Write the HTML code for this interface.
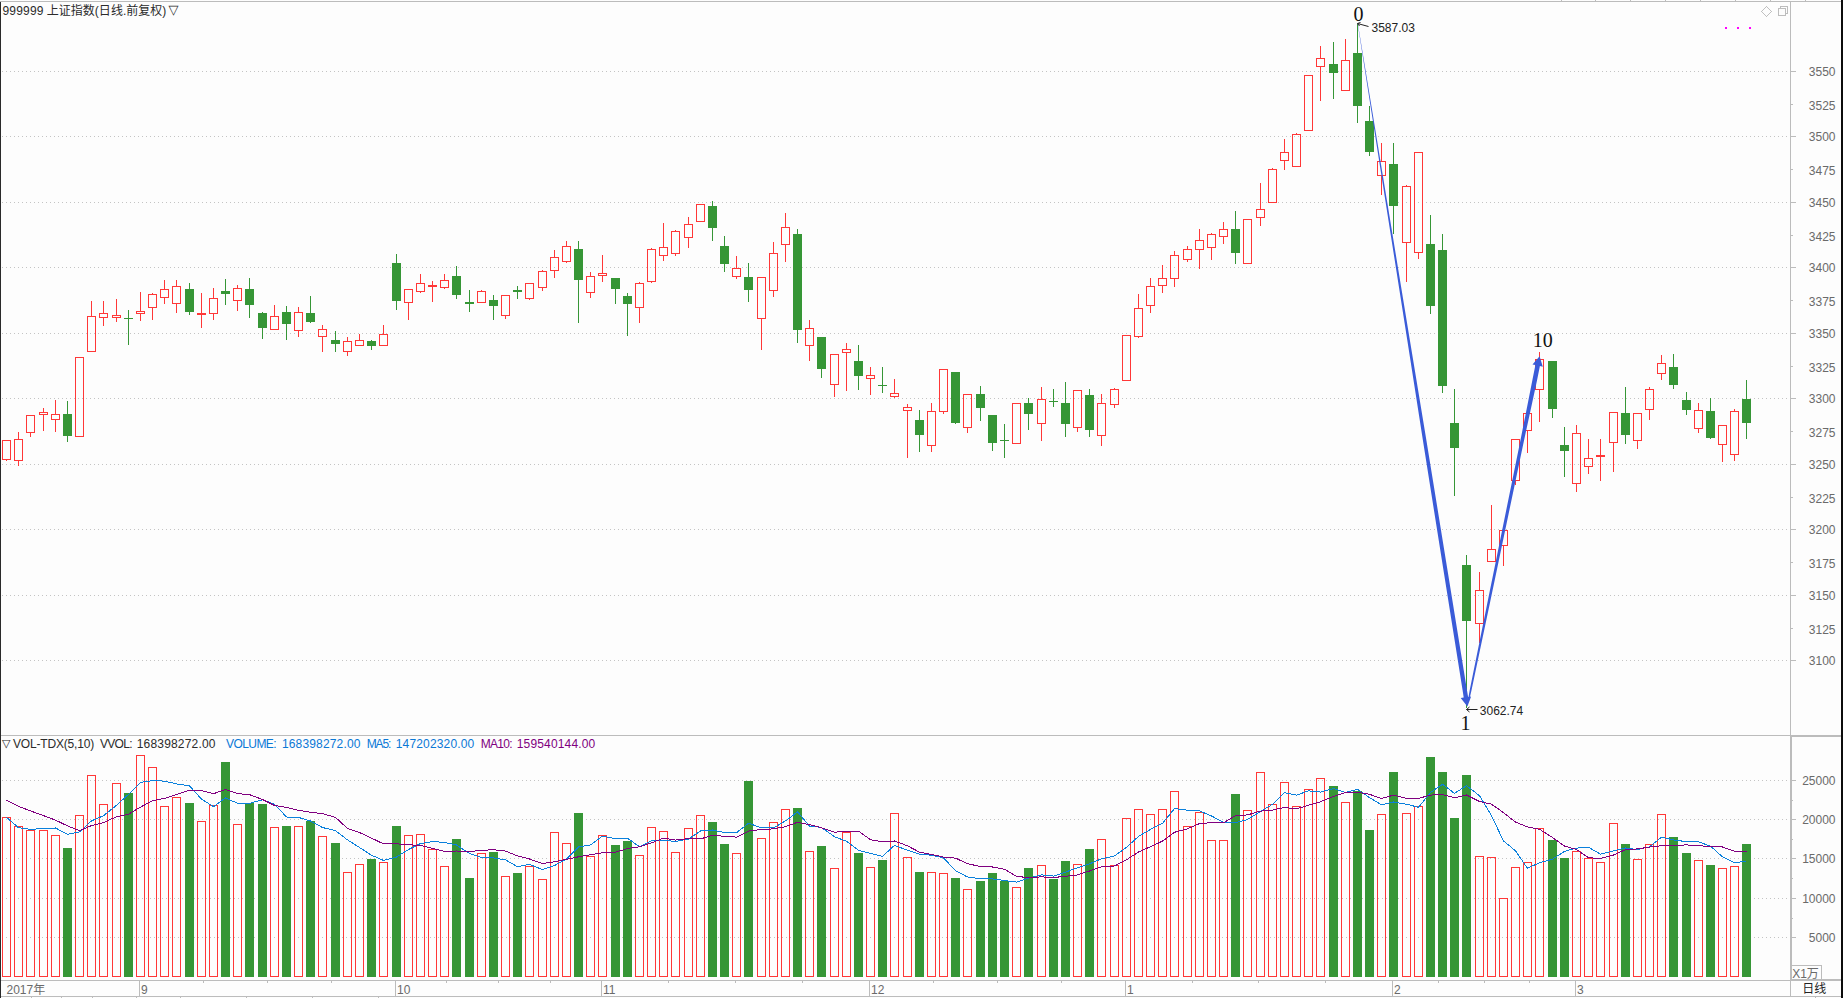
<!DOCTYPE html>
<html lang="zh-CN"><head><meta charset="utf-8"><title>999999 上证指数</title>
<style>
html,body{margin:0;padding:0;background:#fdfdfd;overflow:hidden}
svg{display:block}
text{font-family:"Liberation Sans","Noto Sans CJK SC",sans-serif;font-size:12px}
text.tri{font-family:"DejaVu Sans",sans-serif;font-size:11px}
text.sf{font-family:"Liberation Serif","Noto Serif CJK SC",serif;font-size:20px}
</style></head><body>
<svg width="1843" height="998" viewBox="0 0 1843 998">
<rect x="0" y="0" width="1843" height="998" fill="#fdfdfd"/>
<g shape-rendering="crispEdges">
<rect x="0" y="1" width="1841" height="1" fill="#bcbcbc"/>
<rect x="1561" y="0" width="1" height="1" fill="#bcbcbc"/>
<rect x="1595" y="0" width="1" height="1" fill="#bcbcbc"/>
<rect x="1630" y="0" width="1" height="1" fill="#bcbcbc"/>
<rect x="1665" y="0" width="1" height="1" fill="#bcbcbc"/>
<rect x="1700" y="0" width="1" height="1" fill="#bcbcbc"/>
<rect x="1735" y="0" width="1" height="1" fill="#bcbcbc"/>
<rect x="1770" y="0" width="1" height="1" fill="#bcbcbc"/>
<rect x="1805" y="0" width="1" height="1" fill="#bcbcbc"/>
<rect x="0" y="2" width="1" height="996" fill="#2a2a2a"/>
<rect x="1841" y="0" width="2" height="998" fill="#0c0c0c"/>
<rect x="1790" y="2" width="1" height="995" fill="#bcbcbc"/>
<rect x="1791" y="736" width="1" height="244" fill="#bcbcbc"/>
<rect x="1" y="735" width="1840" height="1" fill="#bcbcbc"/>
<rect x="1791" y="736" width="50" height="1" fill="#bcbcbc"/>
<rect x="1" y="980" width="1840" height="1" fill="#bcbcbc"/>
<rect x="1791" y="979" width="50" height="1" fill="#bcbcbc"/>
<rect x="1" y="996" width="1840" height="1" fill="#bcbcbc"/>
<rect x="31" y="997" width="1" height="1" fill="#bcbcbc"/>
<rect x="61" y="997" width="1" height="1" fill="#bcbcbc"/>
<rect x="92" y="997" width="1" height="1" fill="#bcbcbc"/>
<rect x="136" y="997" width="1" height="1" fill="#bcbcbc"/>
<rect x="180" y="997" width="1" height="1" fill="#bcbcbc"/>
<rect x="246" y="997" width="1" height="1" fill="#bcbcbc"/>
<rect x="312" y="997" width="1" height="1" fill="#bcbcbc"/>
<rect x="378" y="997" width="1" height="1" fill="#bcbcbc"/>
<rect x="1815" y="997" width="1" height="1" fill="#bcbcbc"/>
<rect x="1791" y="71" width="5" height="1" fill="#bcbcbc"/>
<rect x="1791" y="104" width="2" height="1" fill="#bcbcbc"/>
<rect x="1791" y="136" width="5" height="1" fill="#bcbcbc"/>
<rect x="1791" y="169" width="2" height="1" fill="#bcbcbc"/>
<rect x="1791" y="202" width="5" height="1" fill="#bcbcbc"/>
<rect x="1791" y="235" width="2" height="1" fill="#bcbcbc"/>
<rect x="1791" y="267" width="5" height="1" fill="#bcbcbc"/>
<rect x="1791" y="300" width="2" height="1" fill="#bcbcbc"/>
<rect x="1791" y="333" width="5" height="1" fill="#bcbcbc"/>
<rect x="1791" y="366" width="2" height="1" fill="#bcbcbc"/>
<rect x="1791" y="398" width="5" height="1" fill="#bcbcbc"/>
<rect x="1791" y="431" width="2" height="1" fill="#bcbcbc"/>
<rect x="1791" y="464" width="5" height="1" fill="#bcbcbc"/>
<rect x="1791" y="497" width="2" height="1" fill="#bcbcbc"/>
<rect x="1791" y="529" width="5" height="1" fill="#bcbcbc"/>
<rect x="1791" y="562" width="2" height="1" fill="#bcbcbc"/>
<rect x="1791" y="595" width="5" height="1" fill="#bcbcbc"/>
<rect x="1791" y="628" width="2" height="1" fill="#bcbcbc"/>
<rect x="1791" y="660" width="5" height="1" fill="#bcbcbc"/>
<rect x="1792" y="780" width="4" height="1" fill="#bcbcbc"/>
<rect x="1792" y="800" width="1" height="1" fill="#bcbcbc"/>
<rect x="1792" y="819" width="4" height="1" fill="#bcbcbc"/>
<rect x="1792" y="839" width="1" height="1" fill="#bcbcbc"/>
<rect x="1792" y="858" width="4" height="1" fill="#bcbcbc"/>
<rect x="1792" y="878" width="1" height="1" fill="#bcbcbc"/>
<rect x="1792" y="898" width="4" height="1" fill="#bcbcbc"/>
<rect x="1792" y="918" width="1" height="1" fill="#bcbcbc"/>
<rect x="1792" y="937" width="4" height="1" fill="#bcbcbc"/>
<rect x="139" y="981" width="1" height="15" fill="#bcbcbc"/>
<rect x="395" y="981" width="1" height="15" fill="#bcbcbc"/>
<rect x="601" y="981" width="1" height="15" fill="#bcbcbc"/>
<rect x="869" y="981" width="1" height="15" fill="#bcbcbc"/>
<rect x="1125" y="981" width="1" height="15" fill="#bcbcbc"/>
<rect x="1392" y="981" width="1" height="15" fill="#bcbcbc"/>
<rect x="1575" y="981" width="1" height="15" fill="#bcbcbc"/>
<rect x="203" y="981" width="1" height="2" fill="#bcbcbc"/>
<rect x="267" y="981" width="1" height="2" fill="#bcbcbc"/>
<rect x="331" y="981" width="1" height="2" fill="#bcbcbc"/>
<rect x="446" y="981" width="1" height="2" fill="#bcbcbc"/>
<rect x="498" y="981" width="1" height="2" fill="#bcbcbc"/>
<rect x="550" y="981" width="1" height="2" fill="#bcbcbc"/>
<rect x="668" y="981" width="1" height="2" fill="#bcbcbc"/>
<rect x="735" y="981" width="1" height="2" fill="#bcbcbc"/>
<rect x="802" y="981" width="1" height="2" fill="#bcbcbc"/>
<rect x="933" y="981" width="1" height="2" fill="#bcbcbc"/>
<rect x="997" y="981" width="1" height="2" fill="#bcbcbc"/>
<rect x="1061" y="981" width="1" height="2" fill="#bcbcbc"/>
<rect x="1192" y="981" width="1" height="2" fill="#bcbcbc"/>
<rect x="1258" y="981" width="1" height="2" fill="#bcbcbc"/>
<rect x="1325" y="981" width="1" height="2" fill="#bcbcbc"/>
<rect x="1438" y="981" width="1" height="2" fill="#bcbcbc"/>
<rect x="1484" y="981" width="1" height="2" fill="#bcbcbc"/>
<rect x="1529" y="981" width="1" height="2" fill="#bcbcbc"/>
<rect x="1791.5" y="965.5" width="30" height="14" fill="none" stroke="#bcbcbc"/>
<rect x="1725" y="27" width="2" height="2" fill="#ff00ff"/>
<rect x="1737" y="27" width="2" height="2" fill="#ff00ff"/>
<rect x="1749" y="27" width="2" height="2" fill="#ff00ff"/>
</g>
<path d="M1766.5 6.5 L1771.5 11.5 L1766.5 16.5 L1761.5 11.5 Z" fill="none" stroke="#c0c0c0" stroke-width="1" shape-rendering="crispEdges"/>
<g shape-rendering="crispEdges"><rect x="1780.5" y="6.5" width="7" height="7" fill="none" stroke="#bdbdbd"/><rect x="1778.5" y="8.5" width="7" height="7" fill="#fdfdfd" stroke="#bdbdbd"/></g>
<g shape-rendering="crispEdges">
<line x1="2" y1="71.5" x2="1787" y2="71.5" stroke="#c4c4c4" stroke-width="1" stroke-dasharray="1 3"/>
<line x1="2" y1="136.5" x2="1787" y2="136.5" stroke="#c4c4c4" stroke-width="1" stroke-dasharray="1 3"/>
<line x1="2" y1="202.5" x2="1787" y2="202.5" stroke="#c4c4c4" stroke-width="1" stroke-dasharray="1 3"/>
<line x1="2" y1="267.5" x2="1787" y2="267.5" stroke="#c4c4c4" stroke-width="1" stroke-dasharray="1 3"/>
<line x1="2" y1="333.5" x2="1787" y2="333.5" stroke="#c4c4c4" stroke-width="1" stroke-dasharray="1 3"/>
<line x1="2" y1="398.5" x2="1787" y2="398.5" stroke="#c4c4c4" stroke-width="1" stroke-dasharray="1 3"/>
<line x1="2" y1="464.5" x2="1787" y2="464.5" stroke="#c4c4c4" stroke-width="1" stroke-dasharray="1 3"/>
<line x1="2" y1="529.5" x2="1787" y2="529.5" stroke="#c4c4c4" stroke-width="1" stroke-dasharray="1 3"/>
<line x1="2" y1="595.5" x2="1787" y2="595.5" stroke="#c4c4c4" stroke-width="1" stroke-dasharray="1 3"/>
<line x1="2" y1="660.5" x2="1787" y2="660.5" stroke="#c4c4c4" stroke-width="1" stroke-dasharray="1 3"/>
<line x1="2" y1="780.5" x2="1787" y2="780.5" stroke="#c4c4c4" stroke-width="1" stroke-dasharray="1 3"/>
<line x1="2" y1="819.5" x2="1787" y2="819.5" stroke="#c4c4c4" stroke-width="1" stroke-dasharray="1 3"/>
<line x1="2" y1="858.5" x2="1787" y2="858.5" stroke="#c4c4c4" stroke-width="1" stroke-dasharray="1 3"/>
<line x1="2" y1="898.5" x2="1787" y2="898.5" stroke="#c4c4c4" stroke-width="1" stroke-dasharray="1 3"/>
<line x1="2" y1="937.5" x2="1787" y2="937.5" stroke="#c4c4c4" stroke-width="1" stroke-dasharray="1 3"/>
</g>
<g shape-rendering="crispEdges">
<rect x="2.5" y="440.5" width="8" height="19" fill="none" stroke="#ff3737" stroke-width="1"/>
<rect x="6.0" y="460" width="1" height="1" fill="#ff3737"/>
<rect x="14.5" y="439.5" width="8" height="21" fill="none" stroke="#ff3737" stroke-width="1"/>
<rect x="18.0" y="432" width="1" height="7" fill="#ff3737"/>
<rect x="18.0" y="461" width="1" height="5" fill="#ff3737"/>
<rect x="26.5" y="415.5" width="8" height="17" fill="none" stroke="#ff3737" stroke-width="1"/>
<rect x="30.0" y="433" width="1" height="4" fill="#ff3737"/>
<rect x="39.5" y="412.5" width="8" height="2" fill="none" stroke="#ff3737" stroke-width="1"/>
<rect x="43.0" y="408" width="1" height="4" fill="#ff3737"/>
<rect x="43.0" y="415" width="1" height="16" fill="#ff3737"/>
<rect x="51.5" y="414.5" width="8" height="5" fill="none" stroke="#ff3737" stroke-width="1"/>
<rect x="55.0" y="400" width="1" height="14" fill="#ff3737"/>
<rect x="55.0" y="420" width="1" height="12" fill="#ff3737"/>
<rect x="63.0" y="414" width="9" height="22" fill="#369636"/>
<rect x="67.0" y="401" width="1" height="13" fill="#369636"/>
<rect x="67.0" y="436" width="1" height="6" fill="#369636"/>
<rect x="75.5" y="357.5" width="8" height="79" fill="none" stroke="#ff3737" stroke-width="1"/>
<rect x="87.5" y="316.5" width="8" height="35" fill="none" stroke="#ff3737" stroke-width="1"/>
<rect x="91.0" y="301" width="1" height="15" fill="#ff3737"/>
<rect x="99.5" y="313.5" width="8" height="4" fill="none" stroke="#ff3737" stroke-width="1"/>
<rect x="103.0" y="301" width="1" height="12" fill="#ff3737"/>
<rect x="103.0" y="318" width="1" height="8" fill="#ff3737"/>
<rect x="112.5" y="315.5" width="8" height="2" fill="none" stroke="#ff3737" stroke-width="1"/>
<rect x="116.0" y="299" width="1" height="16" fill="#ff3737"/>
<rect x="116.0" y="318" width="1" height="4" fill="#ff3737"/>
<rect x="124.0" y="318" width="9" height="1" fill="#369636"/>
<rect x="128.0" y="310" width="1" height="8" fill="#369636"/>
<rect x="128.0" y="319" width="1" height="26" fill="#369636"/>
<rect x="136.5" y="311.5" width="8" height="2" fill="none" stroke="#ff3737" stroke-width="1"/>
<rect x="140.0" y="292" width="1" height="19" fill="#ff3737"/>
<rect x="140.0" y="314" width="1" height="7" fill="#ff3737"/>
<rect x="148.5" y="294.5" width="8" height="13" fill="none" stroke="#ff3737" stroke-width="1"/>
<rect x="152.0" y="293" width="1" height="1" fill="#ff3737"/>
<rect x="152.0" y="308" width="1" height="12" fill="#ff3737"/>
<rect x="160.5" y="289.5" width="8" height="8" fill="none" stroke="#ff3737" stroke-width="1"/>
<rect x="164.0" y="280" width="1" height="9" fill="#ff3737"/>
<rect x="164.0" y="298" width="1" height="6" fill="#ff3737"/>
<rect x="172.5" y="286.5" width="8" height="17" fill="none" stroke="#ff3737" stroke-width="1"/>
<rect x="176.0" y="280" width="1" height="6" fill="#ff3737"/>
<rect x="176.0" y="304" width="1" height="9" fill="#ff3737"/>
<rect x="185.0" y="289" width="9" height="23" fill="#369636"/>
<rect x="189.0" y="283" width="1" height="6" fill="#369636"/>
<rect x="189.0" y="312" width="1" height="3" fill="#369636"/>
<rect x="197.0" y="313" width="9" height="2" fill="#ff3737"/>
<rect x="201.0" y="293" width="1" height="20" fill="#ff3737"/>
<rect x="201.0" y="315" width="1" height="13" fill="#ff3737"/>
<rect x="209.5" y="298.5" width="8" height="15" fill="none" stroke="#ff3737" stroke-width="1"/>
<rect x="213.0" y="288" width="1" height="10" fill="#ff3737"/>
<rect x="213.0" y="314" width="1" height="6" fill="#ff3737"/>
<rect x="221.0" y="291" width="9" height="3" fill="#369636"/>
<rect x="225.0" y="279" width="1" height="12" fill="#369636"/>
<rect x="225.0" y="294" width="1" height="11" fill="#369636"/>
<rect x="233.5" y="288.5" width="8" height="12" fill="none" stroke="#ff3737" stroke-width="1"/>
<rect x="237.0" y="285" width="1" height="3" fill="#ff3737"/>
<rect x="237.0" y="301" width="1" height="10" fill="#ff3737"/>
<rect x="245.0" y="289" width="9" height="16" fill="#369636"/>
<rect x="249.0" y="278" width="1" height="11" fill="#369636"/>
<rect x="249.0" y="305" width="1" height="13" fill="#369636"/>
<rect x="258.0" y="313" width="9" height="15" fill="#369636"/>
<rect x="262.0" y="312" width="1" height="1" fill="#369636"/>
<rect x="262.0" y="328" width="1" height="11" fill="#369636"/>
<rect x="270.5" y="316.5" width="8" height="13" fill="none" stroke="#ff3737" stroke-width="1"/>
<rect x="274.0" y="305" width="1" height="11" fill="#ff3737"/>
<rect x="282.0" y="312" width="9" height="12" fill="#369636"/>
<rect x="286.0" y="306" width="1" height="6" fill="#369636"/>
<rect x="286.0" y="324" width="1" height="16" fill="#369636"/>
<rect x="294.5" y="312.5" width="8" height="18" fill="none" stroke="#ff3737" stroke-width="1"/>
<rect x="298.0" y="307" width="1" height="5" fill="#ff3737"/>
<rect x="298.0" y="331" width="1" height="6" fill="#ff3737"/>
<rect x="306.0" y="313" width="9" height="9" fill="#369636"/>
<rect x="310.0" y="296" width="1" height="17" fill="#369636"/>
<rect x="310.0" y="322" width="1" height="1" fill="#369636"/>
<rect x="318.5" y="329.5" width="8" height="7" fill="none" stroke="#ff3737" stroke-width="1"/>
<rect x="322.0" y="325" width="1" height="4" fill="#ff3737"/>
<rect x="322.0" y="337" width="1" height="15" fill="#ff3737"/>
<rect x="331.0" y="340" width="9" height="4" fill="#369636"/>
<rect x="335.0" y="331" width="1" height="9" fill="#369636"/>
<rect x="335.0" y="344" width="1" height="8" fill="#369636"/>
<rect x="343.5" y="341.5" width="8" height="10" fill="none" stroke="#ff3737" stroke-width="1"/>
<rect x="347.0" y="337" width="1" height="4" fill="#ff3737"/>
<rect x="347.0" y="352" width="1" height="4" fill="#ff3737"/>
<rect x="355.5" y="340.5" width="8" height="5" fill="none" stroke="#ff3737" stroke-width="1"/>
<rect x="359.0" y="334" width="1" height="6" fill="#ff3737"/>
<rect x="367.0" y="341" width="9" height="5" fill="#369636"/>
<rect x="371.0" y="340" width="1" height="1" fill="#369636"/>
<rect x="371.0" y="346" width="1" height="4" fill="#369636"/>
<rect x="379.5" y="334.5" width="8" height="11" fill="none" stroke="#ff3737" stroke-width="1"/>
<rect x="383.0" y="325" width="1" height="9" fill="#ff3737"/>
<rect x="392.0" y="263" width="9" height="38" fill="#369636"/>
<rect x="396.0" y="254" width="1" height="9" fill="#369636"/>
<rect x="396.0" y="301" width="1" height="9" fill="#369636"/>
<rect x="404.5" y="289.5" width="8" height="13" fill="none" stroke="#ff3737" stroke-width="1"/>
<rect x="408.0" y="303" width="1" height="17" fill="#ff3737"/>
<rect x="416.5" y="283.5" width="8" height="8" fill="none" stroke="#ff3737" stroke-width="1"/>
<rect x="420.0" y="274" width="1" height="9" fill="#ff3737"/>
<rect x="420.0" y="292" width="1" height="1" fill="#ff3737"/>
<rect x="428.0" y="285" width="9" height="2" fill="#ff3737"/>
<rect x="432.0" y="281" width="1" height="4" fill="#ff3737"/>
<rect x="432.0" y="287" width="1" height="15" fill="#ff3737"/>
<rect x="440.5" y="280.5" width="8" height="7" fill="none" stroke="#ff3737" stroke-width="1"/>
<rect x="444.0" y="274" width="1" height="6" fill="#ff3737"/>
<rect x="444.0" y="288" width="1" height="1" fill="#ff3737"/>
<rect x="452.0" y="276" width="9" height="19" fill="#369636"/>
<rect x="456.0" y="266" width="1" height="10" fill="#369636"/>
<rect x="456.0" y="295" width="1" height="4" fill="#369636"/>
<rect x="465.0" y="302" width="9" height="2" fill="#369636"/>
<rect x="469.0" y="290" width="1" height="12" fill="#369636"/>
<rect x="469.0" y="304" width="1" height="8" fill="#369636"/>
<rect x="477.5" y="291.5" width="8" height="11" fill="none" stroke="#ff3737" stroke-width="1"/>
<rect x="481.0" y="290" width="1" height="1" fill="#ff3737"/>
<rect x="489.0" y="300" width="9" height="6" fill="#369636"/>
<rect x="493.0" y="295" width="1" height="5" fill="#369636"/>
<rect x="493.0" y="306" width="1" height="14" fill="#369636"/>
<rect x="501.5" y="295.5" width="8" height="20" fill="none" stroke="#ff3737" stroke-width="1"/>
<rect x="505.0" y="316" width="1" height="3" fill="#ff3737"/>
<rect x="513.0" y="290" width="9" height="2" fill="#369636"/>
<rect x="517.0" y="286" width="1" height="4" fill="#369636"/>
<rect x="517.0" y="292" width="1" height="7" fill="#369636"/>
<rect x="525.5" y="283.5" width="8" height="15" fill="none" stroke="#ff3737" stroke-width="1"/>
<rect x="529.0" y="299" width="1" height="1" fill="#ff3737"/>
<rect x="538.5" y="271.5" width="8" height="16" fill="none" stroke="#ff3737" stroke-width="1"/>
<rect x="542.0" y="270" width="1" height="1" fill="#ff3737"/>
<rect x="542.0" y="288" width="1" height="3" fill="#ff3737"/>
<rect x="550.5" y="257.5" width="8" height="13" fill="none" stroke="#ff3737" stroke-width="1"/>
<rect x="554.0" y="250" width="1" height="7" fill="#ff3737"/>
<rect x="554.0" y="271" width="1" height="7" fill="#ff3737"/>
<rect x="562.5" y="246.5" width="8" height="15" fill="none" stroke="#ff3737" stroke-width="1"/>
<rect x="566.0" y="241" width="1" height="5" fill="#ff3737"/>
<rect x="566.0" y="262" width="1" height="1" fill="#ff3737"/>
<rect x="574.0" y="249" width="9" height="31" fill="#369636"/>
<rect x="578.0" y="241" width="1" height="8" fill="#369636"/>
<rect x="578.0" y="280" width="1" height="43" fill="#369636"/>
<rect x="586.5" y="276.5" width="8" height="16" fill="none" stroke="#ff3737" stroke-width="1"/>
<rect x="590.0" y="272" width="1" height="4" fill="#ff3737"/>
<rect x="590.0" y="293" width="1" height="5" fill="#ff3737"/>
<rect x="598.5" y="273.5" width="8" height="2" fill="none" stroke="#ff3737" stroke-width="1"/>
<rect x="602.0" y="255" width="1" height="18" fill="#ff3737"/>
<rect x="602.0" y="276" width="1" height="6" fill="#ff3737"/>
<rect x="611.0" y="278" width="9" height="11" fill="#369636"/>
<rect x="615.0" y="289" width="1" height="15" fill="#369636"/>
<rect x="623.0" y="296" width="9" height="8" fill="#369636"/>
<rect x="627.0" y="293" width="1" height="3" fill="#369636"/>
<rect x="627.0" y="304" width="1" height="32" fill="#369636"/>
<rect x="635.5" y="283.5" width="8" height="24" fill="none" stroke="#ff3737" stroke-width="1"/>
<rect x="639.0" y="282" width="1" height="1" fill="#ff3737"/>
<rect x="639.0" y="308" width="1" height="15" fill="#ff3737"/>
<rect x="647.5" y="249.5" width="8" height="32" fill="none" stroke="#ff3737" stroke-width="1"/>
<rect x="651.0" y="248" width="1" height="1" fill="#ff3737"/>
<rect x="651.0" y="282" width="1" height="1" fill="#ff3737"/>
<rect x="659.5" y="247.5" width="8" height="8" fill="none" stroke="#ff3737" stroke-width="1"/>
<rect x="663.0" y="223" width="1" height="24" fill="#ff3737"/>
<rect x="663.0" y="256" width="1" height="5" fill="#ff3737"/>
<rect x="671.5" y="231.5" width="8" height="22" fill="none" stroke="#ff3737" stroke-width="1"/>
<rect x="675.0" y="230" width="1" height="1" fill="#ff3737"/>
<rect x="675.0" y="254" width="1" height="2" fill="#ff3737"/>
<rect x="684.5" y="224.5" width="8" height="13" fill="none" stroke="#ff3737" stroke-width="1"/>
<rect x="688.0" y="217" width="1" height="7" fill="#ff3737"/>
<rect x="688.0" y="238" width="1" height="10" fill="#ff3737"/>
<rect x="696.5" y="204.5" width="8" height="17" fill="none" stroke="#ff3737" stroke-width="1"/>
<rect x="708.0" y="206" width="9" height="22" fill="#369636"/>
<rect x="712.0" y="201" width="1" height="5" fill="#369636"/>
<rect x="712.0" y="228" width="1" height="13" fill="#369636"/>
<rect x="720.0" y="246" width="9" height="18" fill="#369636"/>
<rect x="724.0" y="236" width="1" height="10" fill="#369636"/>
<rect x="724.0" y="264" width="1" height="8" fill="#369636"/>
<rect x="732.5" y="268.5" width="8" height="8" fill="none" stroke="#ff3737" stroke-width="1"/>
<rect x="736.0" y="256" width="1" height="12" fill="#ff3737"/>
<rect x="736.0" y="277" width="1" height="2" fill="#ff3737"/>
<rect x="744.0" y="277" width="9" height="13" fill="#369636"/>
<rect x="748.0" y="263" width="1" height="14" fill="#369636"/>
<rect x="748.0" y="290" width="1" height="12" fill="#369636"/>
<rect x="757.5" y="277.5" width="8" height="41" fill="none" stroke="#ff3737" stroke-width="1"/>
<rect x="761.0" y="319" width="1" height="31" fill="#ff3737"/>
<rect x="769.5" y="253.5" width="8" height="37" fill="none" stroke="#ff3737" stroke-width="1"/>
<rect x="773.0" y="242" width="1" height="11" fill="#ff3737"/>
<rect x="773.0" y="291" width="1" height="6" fill="#ff3737"/>
<rect x="781.5" y="227.5" width="8" height="17" fill="none" stroke="#ff3737" stroke-width="1"/>
<rect x="785.0" y="213" width="1" height="14" fill="#ff3737"/>
<rect x="785.0" y="245" width="1" height="17" fill="#ff3737"/>
<rect x="793.0" y="234" width="9" height="96" fill="#369636"/>
<rect x="797.0" y="229" width="1" height="5" fill="#369636"/>
<rect x="797.0" y="330" width="1" height="13" fill="#369636"/>
<rect x="805.5" y="328.5" width="8" height="17" fill="none" stroke="#ff3737" stroke-width="1"/>
<rect x="809.0" y="320" width="1" height="8" fill="#ff3737"/>
<rect x="809.0" y="346" width="1" height="15" fill="#ff3737"/>
<rect x="817.0" y="337" width="9" height="32" fill="#369636"/>
<rect x="821.0" y="369" width="1" height="9" fill="#369636"/>
<rect x="830.5" y="354.5" width="8" height="30" fill="none" stroke="#ff3737" stroke-width="1"/>
<rect x="834.0" y="385" width="1" height="12" fill="#ff3737"/>
<rect x="842.5" y="349.5" width="8" height="3" fill="none" stroke="#ff3737" stroke-width="1"/>
<rect x="846.0" y="343" width="1" height="6" fill="#ff3737"/>
<rect x="846.0" y="353" width="1" height="38" fill="#ff3737"/>
<rect x="854.0" y="361" width="9" height="15" fill="#369636"/>
<rect x="858.0" y="345" width="1" height="16" fill="#369636"/>
<rect x="858.0" y="376" width="1" height="14" fill="#369636"/>
<rect x="866.5" y="375.5" width="8" height="3" fill="none" stroke="#ff3737" stroke-width="1"/>
<rect x="870.0" y="367" width="1" height="8" fill="#ff3737"/>
<rect x="870.0" y="379" width="1" height="16" fill="#ff3737"/>
<rect x="878.0" y="385" width="9" height="1" fill="#369636"/>
<rect x="882.0" y="367" width="1" height="18" fill="#369636"/>
<rect x="882.0" y="386" width="1" height="7" fill="#369636"/>
<rect x="890.5" y="393.5" width="8" height="3" fill="none" stroke="#ff3737" stroke-width="1"/>
<rect x="894.0" y="379" width="1" height="14" fill="#ff3737"/>
<rect x="894.0" y="397" width="1" height="1" fill="#ff3737"/>
<rect x="903.5" y="407.5" width="8" height="3" fill="none" stroke="#ff3737" stroke-width="1"/>
<rect x="907.0" y="404" width="1" height="3" fill="#ff3737"/>
<rect x="907.0" y="411" width="1" height="47" fill="#ff3737"/>
<rect x="915.0" y="420" width="9" height="15" fill="#369636"/>
<rect x="919.0" y="410" width="1" height="10" fill="#369636"/>
<rect x="919.0" y="435" width="1" height="17" fill="#369636"/>
<rect x="927.5" y="411.5" width="8" height="34" fill="none" stroke="#ff3737" stroke-width="1"/>
<rect x="931.0" y="403" width="1" height="8" fill="#ff3737"/>
<rect x="931.0" y="446" width="1" height="6" fill="#ff3737"/>
<rect x="939.5" y="369.5" width="8" height="42" fill="none" stroke="#ff3737" stroke-width="1"/>
<rect x="943.0" y="412" width="1" height="2" fill="#ff3737"/>
<rect x="951.0" y="372" width="9" height="51" fill="#369636"/>
<rect x="955.0" y="423" width="1" height="1" fill="#369636"/>
<rect x="963.5" y="394.5" width="8" height="33" fill="none" stroke="#ff3737" stroke-width="1"/>
<rect x="967.0" y="428" width="1" height="5" fill="#ff3737"/>
<rect x="976.0" y="394" width="9" height="14" fill="#369636"/>
<rect x="980.0" y="386" width="1" height="8" fill="#369636"/>
<rect x="980.0" y="408" width="1" height="13" fill="#369636"/>
<rect x="988.0" y="415" width="9" height="28" fill="#369636"/>
<rect x="992.0" y="443" width="1" height="8" fill="#369636"/>
<rect x="1000.0" y="440" width="9" height="1" fill="#369636"/>
<rect x="1004.0" y="424" width="1" height="16" fill="#369636"/>
<rect x="1004.0" y="441" width="1" height="17" fill="#369636"/>
<rect x="1012.5" y="403.5" width="8" height="40" fill="none" stroke="#ff3737" stroke-width="1"/>
<rect x="1024.0" y="403" width="9" height="11" fill="#369636"/>
<rect x="1028.0" y="398" width="1" height="5" fill="#369636"/>
<rect x="1028.0" y="414" width="1" height="16" fill="#369636"/>
<rect x="1037.5" y="399.5" width="8" height="24" fill="none" stroke="#ff3737" stroke-width="1"/>
<rect x="1041.0" y="387" width="1" height="12" fill="#ff3737"/>
<rect x="1041.0" y="424" width="1" height="17" fill="#ff3737"/>
<rect x="1049.0" y="401" width="9" height="1" fill="#369636"/>
<rect x="1053.0" y="389" width="1" height="12" fill="#369636"/>
<rect x="1053.0" y="402" width="1" height="5" fill="#369636"/>
<rect x="1061.0" y="403" width="9" height="21" fill="#369636"/>
<rect x="1065.0" y="382" width="1" height="21" fill="#369636"/>
<rect x="1065.0" y="424" width="1" height="13" fill="#369636"/>
<rect x="1073.5" y="390.5" width="8" height="37" fill="none" stroke="#ff3737" stroke-width="1"/>
<rect x="1077.0" y="428" width="1" height="4" fill="#ff3737"/>
<rect x="1085.0" y="395" width="9" height="35" fill="#369636"/>
<rect x="1089.0" y="389" width="1" height="6" fill="#369636"/>
<rect x="1089.0" y="430" width="1" height="7" fill="#369636"/>
<rect x="1097.5" y="403.5" width="8" height="32" fill="none" stroke="#ff3737" stroke-width="1"/>
<rect x="1101.0" y="394" width="1" height="9" fill="#ff3737"/>
<rect x="1101.0" y="436" width="1" height="10" fill="#ff3737"/>
<rect x="1110.5" y="389.5" width="8" height="15" fill="none" stroke="#ff3737" stroke-width="1"/>
<rect x="1114.0" y="388" width="1" height="1" fill="#ff3737"/>
<rect x="1114.0" y="405" width="1" height="3" fill="#ff3737"/>
<rect x="1122.5" y="335.5" width="8" height="45" fill="none" stroke="#ff3737" stroke-width="1"/>
<rect x="1134.5" y="308.5" width="8" height="28" fill="none" stroke="#ff3737" stroke-width="1"/>
<rect x="1138.0" y="294" width="1" height="14" fill="#ff3737"/>
<rect x="1138.0" y="337" width="1" height="1" fill="#ff3737"/>
<rect x="1146.5" y="286.5" width="8" height="19" fill="none" stroke="#ff3737" stroke-width="1"/>
<rect x="1150.0" y="278" width="1" height="8" fill="#ff3737"/>
<rect x="1150.0" y="306" width="1" height="7" fill="#ff3737"/>
<rect x="1158.5" y="278.5" width="8" height="7" fill="none" stroke="#ff3737" stroke-width="1"/>
<rect x="1162.0" y="265" width="1" height="13" fill="#ff3737"/>
<rect x="1162.0" y="286" width="1" height="7" fill="#ff3737"/>
<rect x="1170.5" y="255.5" width="8" height="23" fill="none" stroke="#ff3737" stroke-width="1"/>
<rect x="1174.0" y="251" width="1" height="4" fill="#ff3737"/>
<rect x="1174.0" y="279" width="1" height="8" fill="#ff3737"/>
<rect x="1183.5" y="249.5" width="8" height="10" fill="none" stroke="#ff3737" stroke-width="1"/>
<rect x="1187.0" y="246" width="1" height="3" fill="#ff3737"/>
<rect x="1187.0" y="260" width="1" height="2" fill="#ff3737"/>
<rect x="1195.5" y="240.5" width="8" height="9" fill="none" stroke="#ff3737" stroke-width="1"/>
<rect x="1199.0" y="229" width="1" height="11" fill="#ff3737"/>
<rect x="1199.0" y="250" width="1" height="19" fill="#ff3737"/>
<rect x="1207.5" y="234.5" width="8" height="13" fill="none" stroke="#ff3737" stroke-width="1"/>
<rect x="1211.0" y="233" width="1" height="1" fill="#ff3737"/>
<rect x="1211.0" y="248" width="1" height="12" fill="#ff3737"/>
<rect x="1219.5" y="229.5" width="8" height="7" fill="none" stroke="#ff3737" stroke-width="1"/>
<rect x="1223.0" y="222" width="1" height="7" fill="#ff3737"/>
<rect x="1223.0" y="237" width="1" height="7" fill="#ff3737"/>
<rect x="1231.0" y="229" width="9" height="24" fill="#369636"/>
<rect x="1235.0" y="211" width="1" height="18" fill="#369636"/>
<rect x="1235.0" y="253" width="1" height="11" fill="#369636"/>
<rect x="1243.5" y="219.5" width="8" height="44" fill="none" stroke="#ff3737" stroke-width="1"/>
<rect x="1256.5" y="209.5" width="8" height="8" fill="none" stroke="#ff3737" stroke-width="1"/>
<rect x="1260.0" y="183" width="1" height="26" fill="#ff3737"/>
<rect x="1260.0" y="218" width="1" height="8" fill="#ff3737"/>
<rect x="1268.5" y="169.5" width="8" height="33" fill="none" stroke="#ff3737" stroke-width="1"/>
<rect x="1272.0" y="168" width="1" height="1" fill="#ff3737"/>
<rect x="1280.5" y="152.5" width="8" height="8" fill="none" stroke="#ff3737" stroke-width="1"/>
<rect x="1284.0" y="139" width="1" height="13" fill="#ff3737"/>
<rect x="1284.0" y="161" width="1" height="9" fill="#ff3737"/>
<rect x="1292.5" y="134.5" width="8" height="32" fill="none" stroke="#ff3737" stroke-width="1"/>
<rect x="1296.0" y="133" width="1" height="1" fill="#ff3737"/>
<rect x="1304.5" y="75.5" width="8" height="55" fill="none" stroke="#ff3737" stroke-width="1"/>
<rect x="1316.5" y="58.5" width="8" height="8" fill="none" stroke="#ff3737" stroke-width="1"/>
<rect x="1320.0" y="46" width="1" height="12" fill="#ff3737"/>
<rect x="1320.0" y="67" width="1" height="34" fill="#ff3737"/>
<rect x="1329.0" y="64" width="9" height="9" fill="#369636"/>
<rect x="1333.0" y="42" width="1" height="22" fill="#369636"/>
<rect x="1333.0" y="73" width="1" height="26" fill="#369636"/>
<rect x="1341.5" y="60.5" width="8" height="30" fill="none" stroke="#ff3737" stroke-width="1"/>
<rect x="1345.0" y="39" width="1" height="21" fill="#ff3737"/>
<rect x="1353.0" y="53" width="9" height="53" fill="#369636"/>
<rect x="1357.0" y="24" width="1" height="29" fill="#369636"/>
<rect x="1357.0" y="106" width="1" height="17" fill="#369636"/>
<rect x="1365.0" y="121" width="9" height="31" fill="#369636"/>
<rect x="1369.0" y="106" width="1" height="15" fill="#369636"/>
<rect x="1369.0" y="152" width="1" height="4" fill="#369636"/>
<rect x="1377.5" y="161.5" width="8" height="14" fill="none" stroke="#ff3737" stroke-width="1"/>
<rect x="1381.0" y="143" width="1" height="18" fill="#ff3737"/>
<rect x="1381.0" y="176" width="1" height="19" fill="#ff3737"/>
<rect x="1389.0" y="164" width="9" height="42" fill="#369636"/>
<rect x="1393.0" y="143" width="1" height="21" fill="#369636"/>
<rect x="1393.0" y="206" width="1" height="28" fill="#369636"/>
<rect x="1402.5" y="186.5" width="8" height="56" fill="none" stroke="#ff3737" stroke-width="1"/>
<rect x="1406.0" y="185" width="1" height="1" fill="#ff3737"/>
<rect x="1406.0" y="243" width="1" height="39" fill="#ff3737"/>
<rect x="1414.5" y="152.5" width="8" height="100" fill="none" stroke="#ff3737" stroke-width="1"/>
<rect x="1418.0" y="253" width="1" height="6" fill="#ff3737"/>
<rect x="1426.0" y="244" width="9" height="62" fill="#369636"/>
<rect x="1430.0" y="215" width="1" height="29" fill="#369636"/>
<rect x="1430.0" y="306" width="1" height="8" fill="#369636"/>
<rect x="1438.0" y="250" width="9" height="136" fill="#369636"/>
<rect x="1442.0" y="234" width="1" height="16" fill="#369636"/>
<rect x="1442.0" y="386" width="1" height="7" fill="#369636"/>
<rect x="1450.0" y="423" width="9" height="25" fill="#369636"/>
<rect x="1454.0" y="389" width="1" height="34" fill="#369636"/>
<rect x="1454.0" y="448" width="1" height="48" fill="#369636"/>
<rect x="1462.0" y="565" width="9" height="56" fill="#369636"/>
<rect x="1466.0" y="555" width="1" height="10" fill="#369636"/>
<rect x="1466.0" y="621" width="1" height="87" fill="#369636"/>
<rect x="1475.5" y="590.5" width="8" height="33" fill="none" stroke="#ff3737" stroke-width="1"/>
<rect x="1479.0" y="572" width="1" height="18" fill="#ff3737"/>
<rect x="1479.0" y="624" width="1" height="19" fill="#ff3737"/>
<rect x="1487.5" y="549.5" width="8" height="12" fill="none" stroke="#ff3737" stroke-width="1"/>
<rect x="1491.0" y="505" width="1" height="44" fill="#ff3737"/>
<rect x="1499.5" y="530.5" width="8" height="15" fill="none" stroke="#ff3737" stroke-width="1"/>
<rect x="1503.0" y="526" width="1" height="4" fill="#ff3737"/>
<rect x="1503.0" y="546" width="1" height="20" fill="#ff3737"/>
<rect x="1511.5" y="439.5" width="8" height="41" fill="none" stroke="#ff3737" stroke-width="1"/>
<rect x="1515.0" y="481" width="1" height="4" fill="#ff3737"/>
<rect x="1523.5" y="413.5" width="8" height="17" fill="none" stroke="#ff3737" stroke-width="1"/>
<rect x="1527.0" y="407" width="1" height="6" fill="#ff3737"/>
<rect x="1527.0" y="431" width="1" height="22" fill="#ff3737"/>
<rect x="1535.5" y="359.5" width="8" height="30" fill="none" stroke="#ff3737" stroke-width="1"/>
<rect x="1539.0" y="352" width="1" height="7" fill="#ff3737"/>
<rect x="1539.0" y="390" width="1" height="32" fill="#ff3737"/>
<rect x="1548.0" y="361" width="9" height="48" fill="#369636"/>
<rect x="1552.0" y="409" width="1" height="9" fill="#369636"/>
<rect x="1560.0" y="445" width="9" height="6" fill="#369636"/>
<rect x="1564.0" y="427" width="1" height="18" fill="#369636"/>
<rect x="1564.0" y="451" width="1" height="26" fill="#369636"/>
<rect x="1572.5" y="433.5" width="8" height="50" fill="none" stroke="#ff3737" stroke-width="1"/>
<rect x="1576.0" y="425" width="1" height="8" fill="#ff3737"/>
<rect x="1576.0" y="484" width="1" height="8" fill="#ff3737"/>
<rect x="1584.5" y="458.5" width="8" height="8" fill="none" stroke="#ff3737" stroke-width="1"/>
<rect x="1588.0" y="439" width="1" height="19" fill="#ff3737"/>
<rect x="1588.0" y="467" width="1" height="7" fill="#ff3737"/>
<rect x="1596.0" y="455" width="9" height="2" fill="#ff3737"/>
<rect x="1600.0" y="439" width="1" height="16" fill="#ff3737"/>
<rect x="1600.0" y="457" width="1" height="24" fill="#ff3737"/>
<rect x="1609.5" y="412.5" width="8" height="30" fill="none" stroke="#ff3737" stroke-width="1"/>
<rect x="1613.0" y="443" width="1" height="29" fill="#ff3737"/>
<rect x="1621.0" y="413" width="9" height="22" fill="#369636"/>
<rect x="1625.0" y="387" width="1" height="26" fill="#369636"/>
<rect x="1625.0" y="435" width="1" height="9" fill="#369636"/>
<rect x="1633.5" y="413.5" width="8" height="27" fill="none" stroke="#ff3737" stroke-width="1"/>
<rect x="1637.0" y="441" width="1" height="8" fill="#ff3737"/>
<rect x="1645.5" y="389.5" width="8" height="20" fill="none" stroke="#ff3737" stroke-width="1"/>
<rect x="1649.0" y="387" width="1" height="2" fill="#ff3737"/>
<rect x="1649.0" y="410" width="1" height="10" fill="#ff3737"/>
<rect x="1657.5" y="363.5" width="8" height="10" fill="none" stroke="#ff3737" stroke-width="1"/>
<rect x="1661.0" y="355" width="1" height="8" fill="#ff3737"/>
<rect x="1661.0" y="374" width="1" height="6" fill="#ff3737"/>
<rect x="1669.0" y="367" width="9" height="18" fill="#369636"/>
<rect x="1673.0" y="354" width="1" height="13" fill="#369636"/>
<rect x="1673.0" y="385" width="1" height="4" fill="#369636"/>
<rect x="1682.0" y="400" width="9" height="10" fill="#369636"/>
<rect x="1686.0" y="392" width="1" height="8" fill="#369636"/>
<rect x="1686.0" y="410" width="1" height="5" fill="#369636"/>
<rect x="1694.5" y="410.5" width="8" height="18" fill="none" stroke="#ff3737" stroke-width="1"/>
<rect x="1698.0" y="403" width="1" height="7" fill="#ff3737"/>
<rect x="1698.0" y="429" width="1" height="4" fill="#ff3737"/>
<rect x="1706.0" y="411" width="9" height="27" fill="#369636"/>
<rect x="1710.0" y="398" width="1" height="13" fill="#369636"/>
<rect x="1710.0" y="438" width="1" height="1" fill="#369636"/>
<rect x="1718.5" y="425.5" width="8" height="19" fill="none" stroke="#ff3737" stroke-width="1"/>
<rect x="1722.0" y="445" width="1" height="17" fill="#ff3737"/>
<rect x="1730.5" y="411.5" width="8" height="43" fill="none" stroke="#ff3737" stroke-width="1"/>
<rect x="1734.0" y="409" width="1" height="2" fill="#ff3737"/>
<rect x="1734.0" y="455" width="1" height="6" fill="#ff3737"/>
<rect x="1742.0" y="399" width="9" height="24" fill="#369636"/>
<rect x="1746.0" y="380" width="1" height="19" fill="#369636"/>
<rect x="1746.0" y="423" width="1" height="16" fill="#369636"/>
</g>
<g shape-rendering="crispEdges">
<rect x="2.5" y="817.5" width="8" height="159" fill="none" stroke="#ff3737" stroke-width="1"/>
<rect x="14.5" y="826.5" width="8" height="150" fill="none" stroke="#ff3737" stroke-width="1"/>
<rect x="26.5" y="830.5" width="8" height="146" fill="none" stroke="#ff3737" stroke-width="1"/>
<rect x="39.5" y="830.5" width="8" height="146" fill="none" stroke="#ff3737" stroke-width="1"/>
<rect x="51.5" y="835.5" width="8" height="141" fill="none" stroke="#ff3737" stroke-width="1"/>
<rect x="63.0" y="848" width="9" height="129" fill="#369636"/>
<rect x="75.5" y="815.5" width="8" height="161" fill="none" stroke="#ff3737" stroke-width="1"/>
<rect x="87.5" y="775.5" width="8" height="201" fill="none" stroke="#ff3737" stroke-width="1"/>
<rect x="99.5" y="804.5" width="8" height="172" fill="none" stroke="#ff3737" stroke-width="1"/>
<rect x="112.5" y="783.5" width="8" height="193" fill="none" stroke="#ff3737" stroke-width="1"/>
<rect x="124.0" y="793" width="9" height="184" fill="#369636"/>
<rect x="136.5" y="755.5" width="8" height="221" fill="none" stroke="#ff3737" stroke-width="1"/>
<rect x="148.5" y="767.5" width="8" height="209" fill="none" stroke="#ff3737" stroke-width="1"/>
<rect x="160.5" y="806.5" width="8" height="170" fill="none" stroke="#ff3737" stroke-width="1"/>
<rect x="172.5" y="797.5" width="8" height="179" fill="none" stroke="#ff3737" stroke-width="1"/>
<rect x="185.0" y="803" width="9" height="174" fill="#369636"/>
<rect x="197.5" y="821.5" width="8" height="155" fill="none" stroke="#ff3737" stroke-width="1"/>
<rect x="209.5" y="805.5" width="8" height="171" fill="none" stroke="#ff3737" stroke-width="1"/>
<rect x="221.0" y="762" width="9" height="215" fill="#369636"/>
<rect x="233.5" y="824.5" width="8" height="152" fill="none" stroke="#ff3737" stroke-width="1"/>
<rect x="245.0" y="803" width="9" height="174" fill="#369636"/>
<rect x="258.0" y="804" width="9" height="173" fill="#369636"/>
<rect x="270.5" y="827.5" width="8" height="149" fill="none" stroke="#ff3737" stroke-width="1"/>
<rect x="282.0" y="826" width="9" height="151" fill="#369636"/>
<rect x="294.5" y="826.5" width="8" height="150" fill="none" stroke="#ff3737" stroke-width="1"/>
<rect x="306.0" y="821" width="9" height="156" fill="#369636"/>
<rect x="318.5" y="836.5" width="8" height="140" fill="none" stroke="#ff3737" stroke-width="1"/>
<rect x="331.0" y="843" width="9" height="134" fill="#369636"/>
<rect x="343.5" y="872.5" width="8" height="104" fill="none" stroke="#ff3737" stroke-width="1"/>
<rect x="355.5" y="864.5" width="8" height="112" fill="none" stroke="#ff3737" stroke-width="1"/>
<rect x="367.0" y="859" width="9" height="118" fill="#369636"/>
<rect x="379.5" y="862.5" width="8" height="114" fill="none" stroke="#ff3737" stroke-width="1"/>
<rect x="392.0" y="826" width="9" height="151" fill="#369636"/>
<rect x="404.5" y="835.5" width="8" height="141" fill="none" stroke="#ff3737" stroke-width="1"/>
<rect x="416.5" y="834.5" width="8" height="142" fill="none" stroke="#ff3737" stroke-width="1"/>
<rect x="428.5" y="849.5" width="8" height="127" fill="none" stroke="#ff3737" stroke-width="1"/>
<rect x="440.5" y="866.5" width="8" height="110" fill="none" stroke="#ff3737" stroke-width="1"/>
<rect x="452.0" y="839" width="9" height="138" fill="#369636"/>
<rect x="465.0" y="878" width="9" height="99" fill="#369636"/>
<rect x="477.5" y="853.5" width="8" height="123" fill="none" stroke="#ff3737" stroke-width="1"/>
<rect x="489.0" y="852" width="9" height="125" fill="#369636"/>
<rect x="501.5" y="876.5" width="8" height="100" fill="none" stroke="#ff3737" stroke-width="1"/>
<rect x="513.0" y="873" width="9" height="104" fill="#369636"/>
<rect x="525.5" y="866.5" width="8" height="110" fill="none" stroke="#ff3737" stroke-width="1"/>
<rect x="538.5" y="879.5" width="8" height="97" fill="none" stroke="#ff3737" stroke-width="1"/>
<rect x="550.5" y="832.5" width="8" height="144" fill="none" stroke="#ff3737" stroke-width="1"/>
<rect x="562.5" y="843.5" width="8" height="133" fill="none" stroke="#ff3737" stroke-width="1"/>
<rect x="574.0" y="813" width="9" height="164" fill="#369636"/>
<rect x="586.5" y="856.5" width="8" height="120" fill="none" stroke="#ff3737" stroke-width="1"/>
<rect x="598.5" y="835.5" width="8" height="141" fill="none" stroke="#ff3737" stroke-width="1"/>
<rect x="611.0" y="845" width="9" height="132" fill="#369636"/>
<rect x="623.0" y="841" width="9" height="136" fill="#369636"/>
<rect x="635.5" y="855.5" width="8" height="121" fill="none" stroke="#ff3737" stroke-width="1"/>
<rect x="647.5" y="827.5" width="8" height="149" fill="none" stroke="#ff3737" stroke-width="1"/>
<rect x="659.5" y="831.5" width="8" height="145" fill="none" stroke="#ff3737" stroke-width="1"/>
<rect x="671.5" y="852.5" width="8" height="124" fill="none" stroke="#ff3737" stroke-width="1"/>
<rect x="684.5" y="828.5" width="8" height="148" fill="none" stroke="#ff3737" stroke-width="1"/>
<rect x="696.5" y="815.5" width="8" height="161" fill="none" stroke="#ff3737" stroke-width="1"/>
<rect x="708.0" y="822" width="9" height="155" fill="#369636"/>
<rect x="720.0" y="844" width="9" height="133" fill="#369636"/>
<rect x="732.5" y="853.5" width="8" height="123" fill="none" stroke="#ff3737" stroke-width="1"/>
<rect x="744.0" y="781" width="9" height="196" fill="#369636"/>
<rect x="757.5" y="838.5" width="8" height="138" fill="none" stroke="#ff3737" stroke-width="1"/>
<rect x="769.5" y="822.5" width="8" height="154" fill="none" stroke="#ff3737" stroke-width="1"/>
<rect x="781.5" y="809.5" width="8" height="167" fill="none" stroke="#ff3737" stroke-width="1"/>
<rect x="793.0" y="808" width="9" height="169" fill="#369636"/>
<rect x="805.5" y="851.5" width="8" height="125" fill="none" stroke="#ff3737" stroke-width="1"/>
<rect x="817.0" y="846" width="9" height="131" fill="#369636"/>
<rect x="830.5" y="868.5" width="8" height="108" fill="none" stroke="#ff3737" stroke-width="1"/>
<rect x="842.5" y="832.5" width="8" height="144" fill="none" stroke="#ff3737" stroke-width="1"/>
<rect x="854.0" y="853" width="9" height="124" fill="#369636"/>
<rect x="866.5" y="867.5" width="8" height="109" fill="none" stroke="#ff3737" stroke-width="1"/>
<rect x="878.0" y="860" width="9" height="117" fill="#369636"/>
<rect x="890.5" y="813.5" width="8" height="163" fill="none" stroke="#ff3737" stroke-width="1"/>
<rect x="903.5" y="857.5" width="8" height="119" fill="none" stroke="#ff3737" stroke-width="1"/>
<rect x="915.0" y="872" width="9" height="105" fill="#369636"/>
<rect x="927.5" y="872.5" width="8" height="104" fill="none" stroke="#ff3737" stroke-width="1"/>
<rect x="939.5" y="873.5" width="8" height="103" fill="none" stroke="#ff3737" stroke-width="1"/>
<rect x="951.0" y="878" width="9" height="99" fill="#369636"/>
<rect x="963.5" y="889.5" width="8" height="87" fill="none" stroke="#ff3737" stroke-width="1"/>
<rect x="976.0" y="881" width="9" height="96" fill="#369636"/>
<rect x="988.0" y="873" width="9" height="104" fill="#369636"/>
<rect x="1000.0" y="881" width="9" height="96" fill="#369636"/>
<rect x="1012.5" y="887.5" width="8" height="89" fill="none" stroke="#ff3737" stroke-width="1"/>
<rect x="1024.0" y="868" width="9" height="109" fill="#369636"/>
<rect x="1037.5" y="865.5" width="8" height="111" fill="none" stroke="#ff3737" stroke-width="1"/>
<rect x="1049.0" y="879" width="9" height="98" fill="#369636"/>
<rect x="1061.0" y="861" width="9" height="116" fill="#369636"/>
<rect x="1073.5" y="864.5" width="8" height="112" fill="none" stroke="#ff3737" stroke-width="1"/>
<rect x="1085.0" y="849" width="9" height="128" fill="#369636"/>
<rect x="1097.5" y="839.5" width="8" height="137" fill="none" stroke="#ff3737" stroke-width="1"/>
<rect x="1110.5" y="865.5" width="8" height="111" fill="none" stroke="#ff3737" stroke-width="1"/>
<rect x="1122.5" y="818.5" width="8" height="158" fill="none" stroke="#ff3737" stroke-width="1"/>
<rect x="1134.5" y="809.5" width="8" height="167" fill="none" stroke="#ff3737" stroke-width="1"/>
<rect x="1146.5" y="814.5" width="8" height="162" fill="none" stroke="#ff3737" stroke-width="1"/>
<rect x="1158.5" y="809.5" width="8" height="167" fill="none" stroke="#ff3737" stroke-width="1"/>
<rect x="1170.5" y="791.5" width="8" height="185" fill="none" stroke="#ff3737" stroke-width="1"/>
<rect x="1183.5" y="826.5" width="8" height="150" fill="none" stroke="#ff3737" stroke-width="1"/>
<rect x="1195.5" y="812.5" width="8" height="164" fill="none" stroke="#ff3737" stroke-width="1"/>
<rect x="1207.5" y="840.5" width="8" height="136" fill="none" stroke="#ff3737" stroke-width="1"/>
<rect x="1219.5" y="840.5" width="8" height="136" fill="none" stroke="#ff3737" stroke-width="1"/>
<rect x="1231.0" y="794" width="9" height="183" fill="#369636"/>
<rect x="1243.5" y="810.5" width="8" height="166" fill="none" stroke="#ff3737" stroke-width="1"/>
<rect x="1256.5" y="772.5" width="8" height="204" fill="none" stroke="#ff3737" stroke-width="1"/>
<rect x="1268.5" y="804.5" width="8" height="172" fill="none" stroke="#ff3737" stroke-width="1"/>
<rect x="1280.5" y="782.5" width="8" height="194" fill="none" stroke="#ff3737" stroke-width="1"/>
<rect x="1292.5" y="806.5" width="8" height="170" fill="none" stroke="#ff3737" stroke-width="1"/>
<rect x="1304.5" y="789.5" width="8" height="187" fill="none" stroke="#ff3737" stroke-width="1"/>
<rect x="1316.5" y="778.5" width="8" height="198" fill="none" stroke="#ff3737" stroke-width="1"/>
<rect x="1329.0" y="786" width="9" height="191" fill="#369636"/>
<rect x="1341.5" y="802.5" width="8" height="174" fill="none" stroke="#ff3737" stroke-width="1"/>
<rect x="1353.0" y="791" width="9" height="186" fill="#369636"/>
<rect x="1365.0" y="830" width="9" height="147" fill="#369636"/>
<rect x="1377.5" y="814.5" width="8" height="162" fill="none" stroke="#ff3737" stroke-width="1"/>
<rect x="1389.0" y="772" width="9" height="205" fill="#369636"/>
<rect x="1402.5" y="813.5" width="8" height="163" fill="none" stroke="#ff3737" stroke-width="1"/>
<rect x="1414.5" y="806.5" width="8" height="170" fill="none" stroke="#ff3737" stroke-width="1"/>
<rect x="1426.0" y="757" width="9" height="220" fill="#369636"/>
<rect x="1438.0" y="772" width="9" height="205" fill="#369636"/>
<rect x="1450.0" y="818" width="9" height="159" fill="#369636"/>
<rect x="1462.0" y="775" width="9" height="202" fill="#369636"/>
<rect x="1475.5" y="856.5" width="8" height="120" fill="none" stroke="#ff3737" stroke-width="1"/>
<rect x="1487.5" y="857.5" width="8" height="119" fill="none" stroke="#ff3737" stroke-width="1"/>
<rect x="1499.5" y="898.5" width="8" height="78" fill="none" stroke="#ff3737" stroke-width="1"/>
<rect x="1511.5" y="867.5" width="8" height="109" fill="none" stroke="#ff3737" stroke-width="1"/>
<rect x="1523.5" y="862.5" width="8" height="114" fill="none" stroke="#ff3737" stroke-width="1"/>
<rect x="1535.5" y="828.5" width="8" height="148" fill="none" stroke="#ff3737" stroke-width="1"/>
<rect x="1548.0" y="840" width="9" height="137" fill="#369636"/>
<rect x="1560.0" y="858" width="9" height="119" fill="#369636"/>
<rect x="1572.5" y="851.5" width="8" height="125" fill="none" stroke="#ff3737" stroke-width="1"/>
<rect x="1584.5" y="858.5" width="8" height="118" fill="none" stroke="#ff3737" stroke-width="1"/>
<rect x="1596.5" y="862.5" width="8" height="114" fill="none" stroke="#ff3737" stroke-width="1"/>
<rect x="1609.5" y="823.5" width="8" height="153" fill="none" stroke="#ff3737" stroke-width="1"/>
<rect x="1621.0" y="844" width="9" height="133" fill="#369636"/>
<rect x="1633.5" y="859.5" width="8" height="117" fill="none" stroke="#ff3737" stroke-width="1"/>
<rect x="1645.5" y="844.5" width="8" height="132" fill="none" stroke="#ff3737" stroke-width="1"/>
<rect x="1657.5" y="814.5" width="8" height="162" fill="none" stroke="#ff3737" stroke-width="1"/>
<rect x="1669.0" y="837" width="9" height="140" fill="#369636"/>
<rect x="1682.0" y="853" width="9" height="124" fill="#369636"/>
<rect x="1694.5" y="860.5" width="8" height="116" fill="none" stroke="#ff3737" stroke-width="1"/>
<rect x="1706.0" y="865" width="9" height="112" fill="#369636"/>
<rect x="1718.5" y="868.5" width="8" height="108" fill="none" stroke="#ff3737" stroke-width="1"/>
<rect x="1730.5" y="866.5" width="8" height="110" fill="none" stroke="#ff3737" stroke-width="1"/>
<rect x="1742.0" y="844" width="9" height="133" fill="#369636"/>
</g>
<polyline shape-rendering="crispEdges" fill="none" stroke="#0a80dc" stroke-width="1" points="6.5,817.4 18.5,827.7 30.5,829.4 43.5,828.4 55.5,828.0 67.5,834.2 79.5,832.0 91.5,820.9 103.5,815.7 116.5,805.3 128.5,794.3 140.5,782.3 152.5,780.7 164.5,781.1 176.5,783.9 189.5,785.9 201.5,799.1 213.5,806.7 225.5,797.9 237.5,803.3 249.5,803.3 262.5,799.8 274.5,804.2 286.5,817.0 298.5,817.4 310.5,821.0 322.5,827.5 335.5,830.7 347.5,839.9 359.5,847.5 371.5,855.2 383.5,860.4 396.5,857.0 408.5,849.5 420.5,843.5 432.5,841.6 444.5,842.4 456.5,845.0 469.5,853.5 481.5,857.4 493.5,857.9 505.5,859.9 517.5,866.7 529.5,864.4 542.5,869.6 554.5,865.6 566.5,859.0 578.5,846.9 590.5,844.9 602.5,836.1 615.5,838.7 627.5,838.3 639.5,846.7 651.5,840.9 663.5,840.1 675.5,841.6 688.5,839.0 700.5,831.0 712.5,830.0 724.5,832.5 736.5,832.7 748.5,823.2 761.5,827.9 773.5,827.9 785.5,820.9 797.5,811.9 809.5,826.0 821.5,827.5 834.5,836.7 846.5,841.3 858.5,850.3 870.5,853.5 882.5,856.4 894.5,845.3 907.5,850.3 919.5,854.1 931.5,855.2 943.5,857.8 955.5,870.8 967.5,877.0 980.5,878.8 992.5,878.9 1004.5,880.5 1016.5,882.1 1028.5,878.1 1041.5,874.9 1053.5,876.1 1065.5,872.1 1077.5,867.7 1089.5,863.9 1101.5,858.7 1114.5,856.0 1126.5,847.4 1138.5,836.4 1150.5,829.4 1162.5,823.4 1174.5,808.6 1187.5,810.2 1199.5,810.8 1211.5,816.0 1223.5,822.2 1235.5,822.7 1247.5,819.5 1260.5,811.5 1272.5,804.3 1284.5,792.7 1296.5,795.1 1308.5,790.9 1320.5,792.1 1333.5,788.5 1345.5,792.5 1357.5,789.4 1369.5,797.6 1381.5,804.8 1393.5,802.0 1406.5,804.2 1418.5,807.3 1430.5,792.6 1442.5,784.2 1454.5,793.4 1466.5,785.7 1479.5,795.7 1491.5,815.8 1503.5,840.9 1515.5,850.8 1527.5,868.3 1539.5,862.7 1552.5,859.2 1564.5,851.3 1576.5,848.1 1588.5,847.3 1600.5,854.1 1613.5,850.8 1625.5,848.0 1637.5,849.6 1649.5,846.8 1661.5,837.2 1673.5,839.9 1686.5,841.7 1698.5,841.9 1710.5,846.1 1722.5,856.9 1734.5,862.8 1746.5,861.0"/>
<polyline shape-rendering="crispEdges" fill="none" stroke="#800080" stroke-width="1" points="6.5,800.1 18.5,806.4 30.5,810.9 43.5,815.6 55.5,820.1 67.5,825.9 79.5,830.7 91.5,825.6 103.5,822.6 116.5,816.7 128.5,814.2 140.5,807.1 152.5,800.8 164.5,798.4 176.5,794.6 189.5,790.1 201.5,790.7 213.5,793.7 225.5,789.5 237.5,793.6 249.5,794.6 262.5,799.5 274.5,805.5 286.5,807.4 298.5,810.3 310.5,812.2 322.5,813.7 335.5,817.4 347.5,828.5 359.5,832.5 371.5,838.1 383.5,843.9 396.5,843.8 408.5,844.7 420.5,845.5 432.5,848.4 444.5,851.4 456.5,851.0 469.5,851.5 481.5,850.4 493.5,849.7 505.5,851.1 517.5,855.9 529.5,859.0 542.5,863.5 554.5,861.8 566.5,859.4 578.5,856.8 590.5,854.7 602.5,852.8 615.5,852.1 627.5,848.6 639.5,846.8 651.5,842.9 663.5,838.1 675.5,840.1 688.5,838.6 700.5,838.9 712.5,835.4 724.5,836.3 736.5,837.1 748.5,831.1 761.5,829.4 773.5,828.9 785.5,826.7 797.5,822.3 809.5,824.6 821.5,827.7 834.5,832.3 846.5,831.1 858.5,831.1 870.5,839.7 882.5,841.9 894.5,841.0 907.5,845.8 919.5,852.2 931.5,854.4 943.5,857.1 955.5,858.1 967.5,863.7 980.5,866.5 992.5,867.0 1004.5,869.2 1016.5,876.5 1028.5,877.5 1041.5,876.9 1053.5,877.5 1065.5,876.3 1077.5,874.9 1089.5,871.0 1101.5,866.8 1114.5,866.0 1126.5,859.8 1138.5,852.0 1150.5,846.7 1162.5,841.1 1174.5,832.3 1187.5,828.8 1199.5,823.6 1211.5,822.7 1223.5,822.8 1235.5,815.7 1247.5,814.9 1260.5,811.1 1272.5,810.1 1284.5,807.4 1296.5,808.9 1308.5,805.2 1320.5,801.8 1333.5,796.4 1345.5,792.6 1357.5,792.3 1369.5,794.3 1381.5,798.5 1393.5,795.2 1406.5,798.4 1418.5,798.4 1430.5,795.1 1442.5,794.5 1454.5,797.7 1466.5,795.0 1479.5,801.5 1491.5,804.2 1503.5,812.6 1515.5,822.1 1527.5,827.0 1539.5,829.2 1552.5,837.5 1564.5,846.1 1576.5,849.5 1588.5,857.8 1600.5,858.4 1613.5,855.0 1625.5,849.7 1637.5,848.9 1649.5,847.1 1661.5,845.7 1673.5,845.4 1686.5,844.9 1698.5,845.8 1710.5,846.4 1722.5,847.0 1734.5,851.3 1746.5,851.3"/>
<polygon fill="#3a5bd8" points="1357.7,24.0 1368.0,90.1 1407.3,340.2 1422.9,440.3 1441.9,560.3 1462.6,690.3 1463.7,697.6 1460.7,698.1 1467.4,706.6 1471.1,696.4 1468.1,696.9 1466.9,689.7 1445.8,559.7 1426.3,439.7 1409.8,339.8 1368.8,89.9 1357.9,24.0"/>
<polygon fill="#3a5bd8" points="1468.8,702.1 1471.5,690.2 1490.5,600.3 1524.0,440.4 1537.0,380.5 1539.9,366.1 1542.8,366.7 1539.6,356.3 1532.5,364.5 1535.4,365.1 1532.5,379.5 1520.6,439.6 1488.0,599.7 1469.8,689.8 1467.6,701.9"/>
<path d="M1357.5 23.5 L1368.5 26.5 M1357.5 23.5 L1360.5 22.5 M1357.5 23.5 L1359.5 26" fill="none" stroke="#222" stroke-width="1"/>
<path d="M1466.5 709.5 L1477.5 709.5 M1466.5 709.5 L1469.5 707 M1466.5 709.5 L1469.5 712" fill="none" stroke="#222" stroke-width="1"/>
<text x="2.5" y="15" fill="#2b2b2b" textLength="41" lengthAdjust="spacing">999999</text>
<text x="46.8" y="15.2" fill="#2b2b2b" textLength="119.5" lengthAdjust="spacing">上证指数(日线.前复权)</text>
<text x="168.5" y="14" class="tri" fill="#2b2b2b" style="font-size:13px">▽</text>
<text x="1835.5" y="76" text-anchor="end" fill="#6a6a6a">3550</text>
<text x="1835.5" y="110" text-anchor="end" fill="#6a6a6a">3525</text>
<text x="1835.5" y="141" text-anchor="end" fill="#6a6a6a">3500</text>
<text x="1835.5" y="175" text-anchor="end" fill="#6a6a6a">3475</text>
<text x="1835.5" y="207" text-anchor="end" fill="#6a6a6a">3450</text>
<text x="1835.5" y="241" text-anchor="end" fill="#6a6a6a">3425</text>
<text x="1835.5" y="272" text-anchor="end" fill="#6a6a6a">3400</text>
<text x="1835.5" y="306" text-anchor="end" fill="#6a6a6a">3375</text>
<text x="1835.5" y="338" text-anchor="end" fill="#6a6a6a">3350</text>
<text x="1835.5" y="372" text-anchor="end" fill="#6a6a6a">3325</text>
<text x="1835.5" y="403" text-anchor="end" fill="#6a6a6a">3300</text>
<text x="1835.5" y="437" text-anchor="end" fill="#6a6a6a">3275</text>
<text x="1835.5" y="469" text-anchor="end" fill="#6a6a6a">3250</text>
<text x="1835.5" y="503" text-anchor="end" fill="#6a6a6a">3225</text>
<text x="1835.5" y="534" text-anchor="end" fill="#6a6a6a">3200</text>
<text x="1835.5" y="568" text-anchor="end" fill="#6a6a6a">3175</text>
<text x="1835.5" y="600" text-anchor="end" fill="#6a6a6a">3150</text>
<text x="1835.5" y="634" text-anchor="end" fill="#6a6a6a">3125</text>
<text x="1835.5" y="665" text-anchor="end" fill="#6a6a6a">3100</text>
<text x="1835.5" y="785" text-anchor="end" fill="#6a6a6a">25000</text>
<text x="1835.5" y="824" text-anchor="end" fill="#6a6a6a">20000</text>
<text x="1835.5" y="863" text-anchor="end" fill="#6a6a6a">15000</text>
<text x="1835.5" y="903" text-anchor="end" fill="#6a6a6a">10000</text>
<text x="1835.5" y="942" text-anchor="end" fill="#6a6a6a">5000</text>
<text x="1792.2" y="978" fill="#6a6a6a">X1万</text>
<text x="1802.3" y="993" fill="#222">日线</text>
<text x="6.5" y="993.7" fill="#6a6a6a">2017年</text>
<text x="141" y="993.7" fill="#6a6a6a">9</text>
<text x="397" y="993.7" fill="#6a6a6a">10</text>
<text x="603" y="993.7" fill="#6a6a6a">11</text>
<text x="871" y="993.7" fill="#6a6a6a">12</text>
<text x="1127" y="993.7" fill="#6a6a6a">1</text>
<text x="1394" y="993.7" fill="#6a6a6a">2</text>
<text x="1577" y="993.7" fill="#6a6a6a">3</text>
<text x="2" y="746.5" class="tri" fill="#2b2b2b">▽</text>
<text x="13" y="748" fill="#2b2b2b" textLength="81.2" lengthAdjust="spacing">VOL-TDX(5,10)</text>
<text x="100" y="748" fill="#2b2b2b" textLength="32.5" lengthAdjust="spacing">VVOL:</text>
<text x="136.7" y="748" fill="#2b2b2b" textLength="78.8" lengthAdjust="spacing">168398272.00</text>
<text x="226" y="748" fill="#0a78d6" textLength="50.6" lengthAdjust="spacing">VOLUME:</text>
<text x="281.9" y="748" fill="#0a78d6" textLength="78.5" lengthAdjust="spacing">168398272.00</text>
<text x="366.7" y="748" fill="#0a78d6" textLength="24.6" lengthAdjust="spacing">MA5:</text>
<text x="395.8" y="748" fill="#0a78d6" textLength="78.4" lengthAdjust="spacing">147202320.00</text>
<text x="480.8" y="748" fill="#800080" textLength="31.7" lengthAdjust="spacing">MA10:</text>
<text x="516.7" y="748" fill="#800080" textLength="78.6" lengthAdjust="spacing">159540144.00</text>
<text x="1358.4" y="21.3" class="sf" text-anchor="middle" fill="#111">0</text>
<text x="1465.5" y="730" class="sf" text-anchor="middle" fill="#111">1</text>
<text x="1542.8" y="347.2" class="sf" text-anchor="middle" fill="#111">10</text>
<text x="1371.5" y="32" fill="#222">3587.03</text>
<text x="1479.8" y="715.3" fill="#222">3062.74</text>
</svg>
</body></html>
